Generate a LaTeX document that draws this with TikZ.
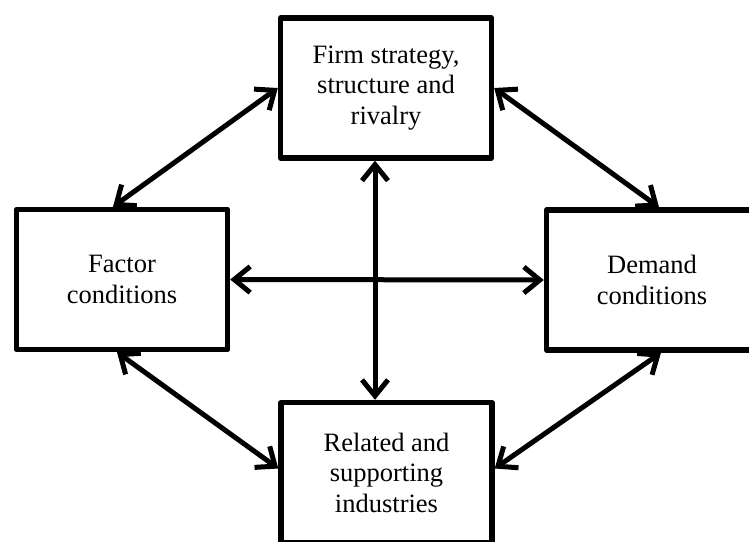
\documentclass[tikz,border=0pt]{standalone}
\usepackage{fontspec}
\setmainfont{Liberation Serif}
\usetikzlibrary{arrows.meta,calc}
\begin{document}
\begin{tikzpicture}[x=1pt,y=-1pt,
  box/.style={draw=black, line width=5.4pt, line join=round, minimum width=211pt, minimum height=140pt, inner sep=0pt, align=center, font=\fontsize{26.5}{30.5}\selectfont},
  link/.style={line width=5pt, {Straight Barb[length=16pt,width=26pt]}-{Straight Barb[length=16pt,width=26pt]}}]
\clip (0,0) rectangle (749,541);
\fill[white] (0,0) rectangle (749,541);
\node[box] (top) at (386,88) {Firm strategy,\\structure and\\rivalry};
\node[box] (left) at (122,279.5) {Factor\\conditions};
\node[box] (right) at (652,280) {Demand\\conditions};
\node[box] (bottom) at (386.5,472.5) {Related and\\supporting\\industries};
\draw[link] ([xshift=-11pt]top.south) -- ([xshift=-11.5pt]bottom.north);
\draw[link] (left.east) -- (right.west);
\draw[link] ([xshift=-9pt]left.north) -- (top.west);
\draw[link] (top.east) -- ([xshift=7pt]right.north);
\draw[link] ([xshift=-5pt]left.south) -- ([yshift=4pt]bottom.west);
\draw[link] ([xshift=9pt]right.south) -- ([yshift=4pt]bottom.east);
\end{tikzpicture}
\end{document}
